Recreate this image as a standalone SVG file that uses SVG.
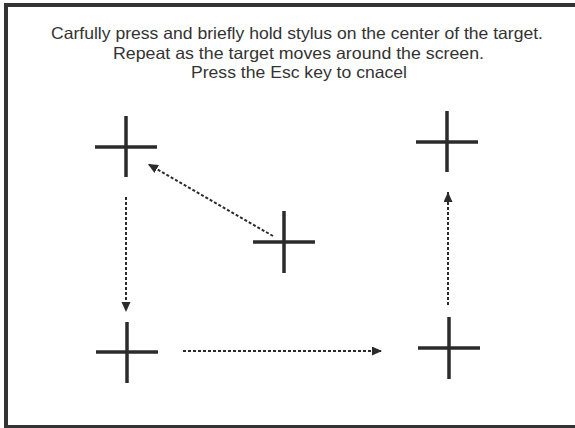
<svg xmlns="http://www.w3.org/2000/svg" width="575" height="428" viewBox="0 0 575 428">
<style>
.frame{fill:#fff;stroke:#333;stroke-width:4}
.txt{font-family:"Liberation Sans",Arial,sans-serif;font-size:16.5px;fill:#333;text-anchor:middle}
.cross line{stroke:#2b2b2b;stroke-width:3.5}
.conn{stroke:#2b2b2b;stroke-width:2;stroke-dasharray:3 2;fill:none;marker-end:url(#ah)}
</style>
<defs>
<marker id="ah" markerUnits="userSpaceOnUse" markerWidth="11" markerHeight="10" refX="10" refY="4.5" orient="auto">
<path d="M0,0 L10,4.5 L0,9 z" fill="#2b2b2b"/>
</marker>
</defs>
<rect class="frame" x="6" y="5" width="580" height="422"/>
<g id="instructions">
<text class="txt" x="297" y="39" textLength="492" lengthAdjust="spacingAndGlyphs">Carfully press and briefly hold stylus on the center of the target.</text>
<text class="txt" x="298.5" y="58.5" textLength="371" lengthAdjust="spacingAndGlyphs">Repeat as the target moves around the screen.</text>
<text class="txt" x="299" y="78" textLength="216" lengthAdjust="spacingAndGlyphs">Press the Esc key to cnacel</text>
</g>
<g id="target-top-left" class="cross"><line x1="95" y1="147" x2="157" y2="147"/><line x1="126" y1="116" x2="126" y2="177"/></g>
<g id="target-center" class="cross"><line x1="253" y1="242" x2="315" y2="242"/><line x1="284" y1="211" x2="284" y2="273"/></g>
<g id="target-bottom-left" class="cross"><line x1="96" y1="352" x2="158" y2="352"/><line x1="127" y1="322" x2="127" y2="383"/></g>
<g id="target-bottom-right" class="cross"><line x1="418" y1="348" x2="480" y2="348"/><line x1="449" y1="317" x2="449" y2="379"/></g>
<g id="target-top-right" class="cross"><line x1="416" y1="142" x2="478" y2="142"/><line x1="447" y1="111" x2="447" y2="172"/></g>
<g id="connectors">
<line class="conn" x1="273" y1="236" x2="148" y2="164"/>
<line class="conn" x1="126" y1="197" x2="126" y2="312"/>
<line class="conn" x1="183" y1="351" x2="382" y2="351"/>
<line class="conn" x1="448" y1="305" x2="448" y2="192"/>
</g>
</svg>
